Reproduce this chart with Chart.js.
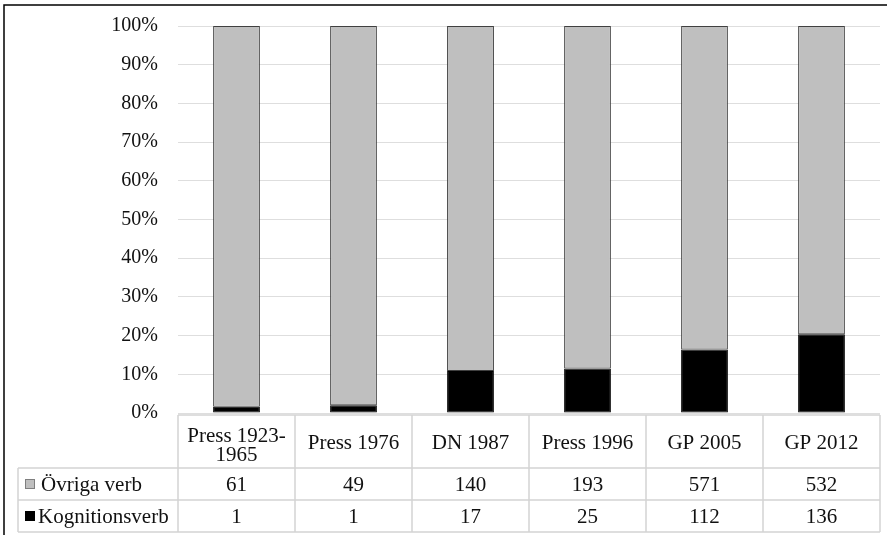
<!DOCTYPE html>
<html>
<head>
<meta charset="utf-8">
<title>Kognitionsverb</title>
<script src="https://cdn.jsdelivr.net/npm/chart.js@4.4.1/dist/chart.umd.min.js"></script>
<style>
  body { margin: 0; background: #fff; }
  canvas { display: block; }
</style>
</head>
<body>
<canvas id="chart" width="887" height="535"></canvas>
<script>
const categories = [['Press 1923-', '1965'], 'Press 1976', 'DN 1987', 'Press 1996', 'GP 2005', 'GP 2012'];
const ovrigaVerb = [61, 49, 140, 193, 571, 532];
const kognitionsVerb = [1, 1, 17, 25, 112, 136];
const yTicks = [0, 10, 20, 30, 40, 50, 60, 70, 80, 90, 100];

const FONT = '"Liberation Serif", "Times New Roman", serif';
const GRAY = '#bfbfbf';
const TEXT = '#111';
const LINE = '#d4d4d4';

// share of each series per column, in percent
const totals = ovrigaVerb.map((v, i) => v + kognitionsVerb[i]);
const kognPct = kognitionsVerb.map((v, i) => v / totals[i] * 100);
const ovrPct = ovrigaVerb.map((v, i) => v / totals[i] * 100);

// data table under the plot + outer frame
const tablePlugin = {
    id: 'dataTable',
    afterDraw(chart) {
        const ctx = chart.ctx;
        const x = chart.scales.x;
        const area = chart.chartArea;
        const colW = (area.right - area.left) / categories.length;
        const top = area.bottom + 2;
        const headBottom = top + 53;
        const row1Bottom = headBottom + 32;
        const row2Bottom = row1Bottom + 32;
        const labelLeft = 18;

        ctx.save();
        // outer frame (top + left)
        ctx.strokeStyle = '#000';
        ctx.lineWidth = 1.5;
        ctx.beginPath();
        ctx.moveTo(4, 535);
        ctx.lineTo(4, 5);
        ctx.lineTo(887, 5);
        ctx.stroke();

        // grid of table
        ctx.strokeStyle = LINE;
        ctx.lineWidth = 1.5;
        ctx.beginPath();
        ctx.moveTo(area.left, top); ctx.lineTo(area.right, top);
        [headBottom, row1Bottom, row2Bottom].forEach(y => {
            ctx.moveTo(labelLeft, y); ctx.lineTo(area.right, y);
        });
        ctx.moveTo(labelLeft, headBottom); ctx.lineTo(labelLeft, row2Bottom);
        for (let i = 0; i <= categories.length; i++) {
            const cx = area.left + i * colW;
            ctx.moveTo(cx, top); ctx.lineTo(cx, row2Bottom);
        }
        ctx.stroke();

        // header + values
        ctx.fillStyle = TEXT;
        ctx.font = '21px ' + FONT;
        ctx.textAlign = 'center';
        ctx.textBaseline = 'middle';
        categories.forEach((c, i) => {
            const cx = x.getPixelForValue(i);
            if (Array.isArray(c)) {
                ctx.fillText(c[0], cx, top + 21);
                ctx.fillText(c[1], cx, top + 40);
            } else {
                ctx.fillText(c, cx, top + 28);
            }
            ctx.fillText(String(ovrigaVerb[i]), cx, headBottom + 17);
            ctx.fillText(String(kognitionsVerb[i]), cx, row1Bottom + 17);
        });

        // row labels with legend keys
        ctx.textAlign = 'left';
        ctx.fillStyle = GRAY;
        ctx.strokeStyle = '#7f7f7f';
        ctx.lineWidth = 1;
        ctx.fillRect(25, headBottom + 11, 10, 10);
        ctx.strokeRect(25.5, headBottom + 11.5, 9, 9);
        ctx.fillStyle = '#000';
        ctx.fillRect(25, row1Bottom + 11, 10, 10);
        ctx.fillStyle = TEXT;
        ctx.fillText('Övriga verb', 41, headBottom + 17);
        ctx.fillText('Kognitionsverb', 38, row1Bottom + 17);
        ctx.restore();
    }
};

new Chart(document.getElementById('chart'), {
    type: 'bar',
    data: {
        labels: categories,
        datasets: [
            {
                label: 'Kognitionsverb',
                data: kognPct,
                backgroundColor: '#000',
                borderColor: '#000',
                borderWidth: 1,
                borderSkipped: false,
                categoryPercentage: 1,
                barPercentage: 0.4
            },
            {
                label: 'Övriga verb',
                data: ovrPct,
                backgroundColor: GRAY,
                borderColor: '#404040',
                borderWidth: 1,
                borderSkipped: false,
                categoryPercentage: 1,
                barPercentage: 0.4
            }
        ]
    },
    options: {
        responsive: false,
        animation: false,
        layout: { padding: { left: 0, top: 26, right: 7, bottom: 122 } },
        plugins: {
            legend: { display: false },
            tooltip: { enabled: false }
        },
        scales: {
            x: {
                stacked: true,
                display: false
            },
            y: {
                stacked: true,
                min: 0,
                max: 100,
                afterFit: s => {
                    s.width = 178;
                    s.paddingTop = 0;
                    s.paddingBottom = 0;
                },
                afterBuildTicks: s => { s.ticks = yTicks.map(v => ({ value: v })); },
                border: { display: false },
                grid: { color: '#dedede', lineWidth: 1, drawTicks: false },
                ticks: {
                    padding: 20,
                    color: TEXT,
                    font: { family: FONT, size: 20 },
                    callback: v => v + '%'
                }
            }
        }
    },
    plugins: [tablePlugin]
});
</script>
</body>
</html>
